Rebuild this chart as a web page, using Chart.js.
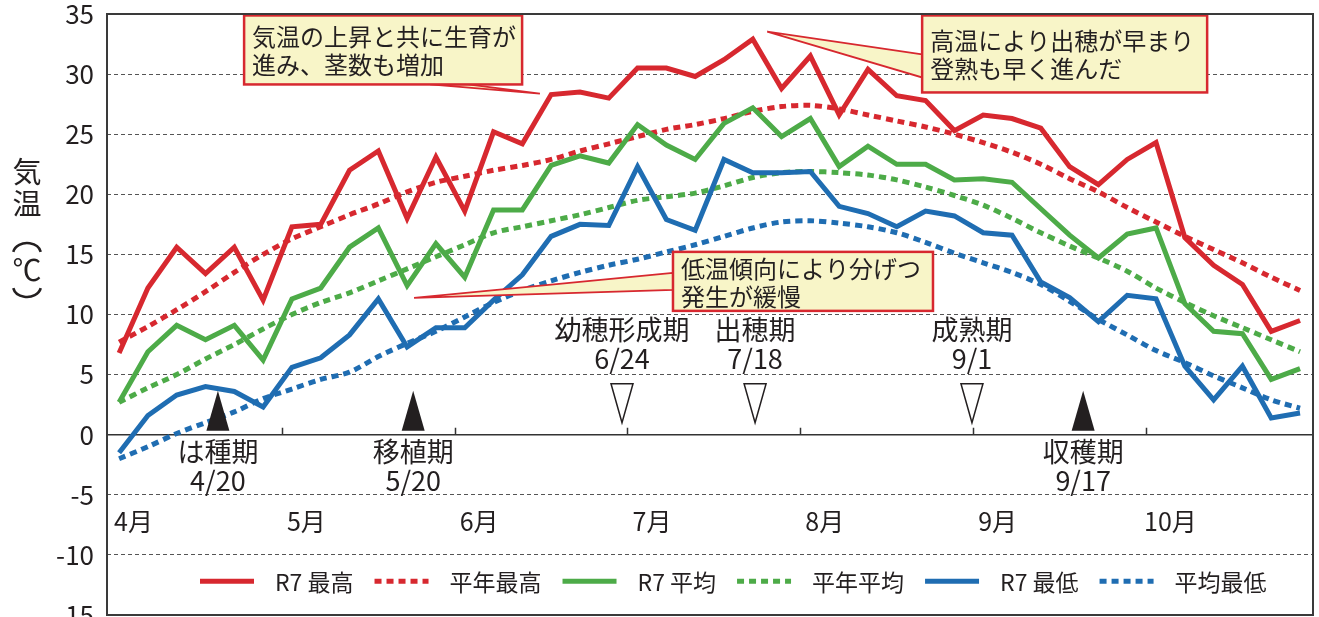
<!DOCTYPE html>
<html lang="ja">
<head>
<meta charset="utf-8">
<title>気温の推移</title>
<script src="https://cdn.jsdelivr.net/npm/chart.js@4.4.1/dist/chart.umd.min.js"></script>
<style>
    html, body { margin: 0; padding: 0; background: #fff; }
    #wrap { width: 1319px; height: 617px; position: relative; }
</style>
</head>
<body>
<div id="wrap"><canvas id="chart"></canvas></div>
<script>
/* ============================
   半旬ごとの気温（4月〜10月）
   ============================ */

// 半旬の区分（各月 6 半旬）
const periods = [
    '4-1', '4-2', '4-3', '4-4', '4-5', '4-6',
    '5-1', '5-2', '5-3', '5-4', '5-5', '5-6',
    '6-1', '6-2', '6-3', '6-4', '6-5', '6-6',
    '7-1', '7-2', '7-3', '7-4', '7-5', '7-6',
    '8-1', '8-2', '8-3', '8-4', '8-5', '8-6',
    '9-1', '9-2', '9-3', '9-4', '9-5', '9-6',
    '10-1', '10-2', '10-3', '10-4', '10-5', '10-6'
];
const months = ['4月', '5月', '6月', '7月', '8月', '9月', '10月'];

const r7Max = [6.8, 12.2, 15.6, 13.4, 15.6, 11.2, 17.3, 17.5, 22.0, 23.6,
    18.0, 23.1, 18.6, 25.2, 24.2, 28.3, 28.5, 28.0, 30.5, 30.5,
    29.8, 31.2, 32.9, 28.8, 31.5, 26.6, 30.4, 28.2, 27.8, 25.3,
    26.6, 26.3, 25.5, 22.3, 20.8, 22.9, 24.3, 16.4, 14.1, 12.5,
    8.6, 9.5];
const normMax = [7.7, 9.0, 10.4, 11.9, 13.5, 15.0, 16.3, 17.3, 18.3, 19.2,
    20.2, 21.0, 21.5, 22.0, 22.4, 22.9, 23.6, 24.2, 24.8, 25.4,
    25.8, 26.3, 26.9, 27.3, 27.4, 27.1, 26.6, 26.1, 25.6, 25.0,
    24.3, 23.5, 22.5, 21.3, 20.2, 18.9, 17.7, 16.5, 15.4, 14.3,
    13.1, 12.0];
const r7Mean = [2.7, 6.9, 9.1, 7.9, 9.1, 6.2, 11.3, 12.2, 15.6, 17.2,
    12.4, 15.9, 13.1, 18.7, 18.7, 22.4, 23.2, 22.6, 25.8, 24.1,
    22.9, 25.9, 27.2, 24.8, 26.3, 22.3, 24.0, 22.5, 22.5, 21.2,
    21.3, 21.0, 18.8, 16.6, 14.7, 16.7, 17.2, 10.9, 8.6, 8.4,
    4.6, 5.5];
const normMean = [2.7, 3.9, 5.0, 6.3, 7.5, 8.8, 10.0, 11.0, 11.8, 12.8,
    13.8, 14.8, 15.8, 16.8, 17.3, 17.8, 18.3, 18.9, 19.5, 19.8,
    20.1, 20.7, 21.4, 21.8, 21.9, 21.8, 21.6, 21.2, 20.6, 19.9,
    19.1, 18.0, 16.8, 15.7, 14.7, 13.6, 12.2, 11.0, 9.9, 8.9,
    7.9, 6.9];
const r7Min = [-1.5, 1.6, 3.3, 4.0, 3.6, 2.3, 5.6, 6.4, 8.3, 11.3,
    7.3, 8.9, 8.9, 11.2, 13.3, 16.5, 17.5, 17.4, 22.3, 17.9,
    17.0, 22.9, 21.8, 21.8, 21.9, 19.0, 18.4, 17.3, 18.6, 18.2,
    16.8, 16.6, 12.7, 11.4, 9.4, 11.6, 11.3, 5.7, 2.9, 5.7,
    1.4, 1.8];
const normMin = [-2.0, -1.0, 0.1, 1.0, 1.9, 3.0, 3.8, 4.6, 5.2, 6.5,
    7.6, 8.6, 9.8, 11.0, 12.0, 12.8, 13.5, 14.1, 14.6, 15.2,
    15.8, 16.5, 17.2, 17.7, 17.8, 17.6, 17.3, 16.8, 16.0, 15.1,
    14.3, 13.5, 12.5, 11.1, 9.6, 8.3, 7.0, 6.0, 4.9, 3.9,
    2.9, 2.2];

// 生育ステージ（at は半旬の位置）
const stages = [
    { name: 'は種期', date: '4/20', at: 3.43, done: true },
    { name: '移植期', date: '5/20', at: 10.21, done: true },
    { name: '幼穂形成期', date: '6/24', at: 17.46, done: false },
    { name: '出穂期', date: '7/18', at: 22.08, done: false },
    { name: '成熟期', date: '9/1', at: 29.61, done: false },
    { name: '収穫期', date: '9/17', at: 33.47, done: true }
];

const FONT = "'Noto Sans CJK JP', 'Noto Sans', sans-serif";
const INK = '#231f20';
const RED = '#d7282f';
const GREEN = '#4dab48';
const BLUE = '#1f6db2';

// 吹き出し（左上の位置と先端は軸の値で指定）
const callouts = [
    {
        lines: ['気温の上昇と共に生育が', '進み、茎数も増加'],
        at: { x: 4.34, y: 34.88 }, w: 278, h: 69,
        tip: { x: 14.61, y: 28.38 },
        tail: [[186, 69], [224, 69]]
    },
    {
        lines: ['高温により出穂が早まり', '登熟も早く進んだ'],
        at: { x: 27.88, y: 34.88 }, w: 285, h: 77,
        tip: { x: 22.5, y: 33.54 },
        tail: [[0, 39], [0, 62]]
    },
    {
        lines: ['低温傾向により分げつ', '発生が緩慢'],
        at: { x: 19.23, y: 15.21 }, w: 260, h: 59,
        tip: { x: 10.24, y: 11.38 },
        tail: [[0, 21], [0, 38]]
    }
];

function series(values) {
    return values.map((v, i) => ({ x: i, y: v }));
}

// 縦書きタイトル「気温（℃）」: 括弧は縦組み用に弧で描く
function drawYTitle(ctx) {
    const cx = 27;
    ctx.fillStyle = INK;
    ctx.font = `29px ${FONT}`;
    ctx.textAlign = 'center';
    ctx.textBaseline = 'middle';
    ctx.fillText('気', cx, 172);
    ctx.fillText('温', cx, 204);
    ctx.fillText('℃', cx, 270);

    ctx.strokeStyle = INK;
    ctx.lineWidth = 2.6;
    ctx.beginPath();
    ctx.ellipse(cx, 254, 14, 11, 0, Math.PI + 0.2, 2 * Math.PI - 0.2);
    ctx.stroke();
    ctx.beginPath();
    ctx.ellipse(cx, 286, 14, 11, 0, 0.2, Math.PI - 0.2);
    ctx.stroke();
}

const decor = {
    id: 'decor',
    beforeDatasetsDraw(chart) {
        const { ctx, chartArea, scales } = chart;
        const y0 = scales.y.getPixelForValue(0);
        ctx.save();
        // 0℃ の軸線と月の区切り
        ctx.strokeStyle = '#333';
        ctx.lineWidth = 1.5;
        ctx.beginPath();
        ctx.moveTo(chartArea.left, y0);
        ctx.lineTo(chartArea.right, y0);
        for (let m = 1; m < months.length; m++) {
            const x = Math.round(scales.x.getPixelForValue(m * 6 - 0.35)) + 0.5;
            ctx.moveTo(x, y0);
            ctx.lineTo(x, y0 - 7);
        }
        ctx.stroke();

        // 月ラベル
        ctx.fillStyle = INK;
        ctx.font = `25px ${FONT}`;
        ctx.textAlign = 'center';
        ctx.textBaseline = 'middle';
        months.forEach((m, i) => {
            ctx.fillText(m, scales.x.getPixelForValue(i * 6 + 0.5), scales.y.getPixelForValue(-7.2));
        });
        ctx.restore();
    },
    afterDatasetsDraw(chart) {
        const { ctx, chartArea, scales } = chart;
        const X = v => scales.x.getPixelForValue(v);
        const Y = v => scales.y.getPixelForValue(v);
        const y0 = Y(0);
        ctx.save();

        // 生育ステージ
        stages.forEach(s => {
            const x = X(s.at);
            ctx.fillStyle = INK;
            ctx.strokeStyle = INK;
            ctx.lineWidth = 1.5;
            ctx.beginPath();
            if (s.done) {
                ctx.moveTo(x - 11.5, y0 - 4);
                ctx.lineTo(x + 11.5, y0 - 4);
                ctx.lineTo(x, y0 - 44);
                ctx.closePath();
                ctx.fill();
            } else {
                ctx.moveTo(x - 11, y0 - 51);
                ctx.lineTo(x + 11, y0 - 51);
                ctx.lineTo(x, y0 - 12);
                ctx.closePath();
                ctx.fillStyle = '#fff';
                ctx.fill();
                ctx.stroke();
            }
            ctx.fillStyle = INK;
            ctx.font = `27px ${FONT}`;
            ctx.textAlign = 'center';
            ctx.textBaseline = 'middle';
            const top = s.done ? y0 + 17 : y0 - 105;
            ctx.fillText(s.name, x, top);
            ctx.fillText(s.date, x, top + 29);
        });

        // 吹き出し
        callouts.forEach(c => {
            const bx = X(c.at.x), by = Y(c.at.y);
            const tx = X(c.tip.x), ty = Y(c.tip.y);
            ctx.fillStyle = '#f8f5c8';
            ctx.strokeStyle = RED;
            ctx.lineWidth = 1.8;
            ctx.beginPath();
            ctx.moveTo(bx + c.tail[0][0], by + c.tail[0][1]);
            ctx.lineTo(tx, ty);
            ctx.lineTo(bx + c.tail[1][0], by + c.tail[1][1]);
            ctx.closePath();
            ctx.fill();
            ctx.stroke();

            ctx.lineWidth = 2.5;
            ctx.fillRect(bx, by, c.w, c.h);
            ctx.strokeRect(bx, by, c.w, c.h);

            ctx.fillStyle = INK;
            ctx.font = `24px ${FONT}`;
            ctx.textAlign = 'left';
            ctx.textBaseline = 'middle';
            const mid = by + c.h / 2 + 1;
            c.lines.forEach((t, i) => {
                ctx.fillText(t, bx + 8, mid + (i - (c.lines.length - 1) / 2) * 28);
            });
        });

        drawYTitle(ctx);

        // 凡例
        const ly = Y(-12.2);
        let lx = 200;
        ctx.font = `23px ${FONT}`;
        ctx.textAlign = 'left';
        ctx.textBaseline = 'middle';
        chart.data.datasets.forEach(ds => {
            ctx.strokeStyle = ds.borderColor;
            ctx.lineWidth = 5;
            ctx.setLineDash(ds.borderDash || []);
            ctx.beginPath();
            ctx.moveTo(lx, ly);
            ctx.lineTo(lx + 54, ly);
            ctx.stroke();
            ctx.setLineDash([]);
            lx += 54 + 21;
            ctx.fillStyle = INK;
            ctx.fillText(ds.label, lx, ly + 1);
            lx += ctx.measureText(ds.label).width + 21;
        });

        // 枠
        ctx.strokeStyle = '#3a3a3a';
        ctx.lineWidth = 2;
        ctx.strokeRect(chartArea.left, chartArea.top, chartArea.right - chartArea.left, chartArea.bottom - chartArea.top);
        ctx.restore();
    }
};

function lineSet(label, values, color, dotted) {
    return {
        label,
        data: series(values),
        borderColor: color,
        backgroundColor: color,
        borderWidth: 5,
        borderDash: dotted ? [7, 5] : [],
        borderCapStyle: 'butt',
        borderJoinStyle: 'miter',
        tension: dotted ? 0.3 : 0,
        pointRadius: 0,
        fill: false,
        order: dotted ? 2 : 1
    };
}

new Chart(document.getElementById('chart'), {
    type: 'line',
    data: {
        labels: periods,
        datasets: [
            lineSet('R7 最高', r7Max, RED, false),
            lineSet('平年最高', normMax, RED, true),
            lineSet('R7 平均', r7Mean, GREEN, false),
            lineSet('平年平均', normMean, GREEN, true),
            lineSet('R7 最低', r7Min, BLUE, false),
            lineSet('平均最低', normMin, BLUE, true)
        ]
    },
    options: {
        responsive: true,
        maintainAspectRatio: false,
        animation: false,
        layout: { padding: { top: 14, right: 6, bottom: 2, left: 0 } },
        plugins: {
            legend: { display: false },
            tooltip: { enabled: false }
        },
        scales: {
            x: {
                type: 'linear',
                min: -0.42,
                max: 41.45,
                display: false
            },
            y: {
                min: -15,
                max: 35,
                afterFit(scale) {
                    scale.width = 107;
                    scale.paddingTop = 0;
                    scale.paddingBottom = 0;
                },
                ticks: {
                    stepSize: 5,
                    padding: 13,
                    color: INK,
                    font: { family: FONT, size: 26 }
                },
                grid: {
                    drawTicks: false,
                    lineWidth: 1,
                    color: c => [-15, 0, 35].includes(c.tick.value) ? 'rgba(0,0,0,0)' : '#555'
                },
                border: { display: false, dash: [4, 3] }
            }
        }
    },
    plugins: [decor]
});
</script>
</body>
</html>
